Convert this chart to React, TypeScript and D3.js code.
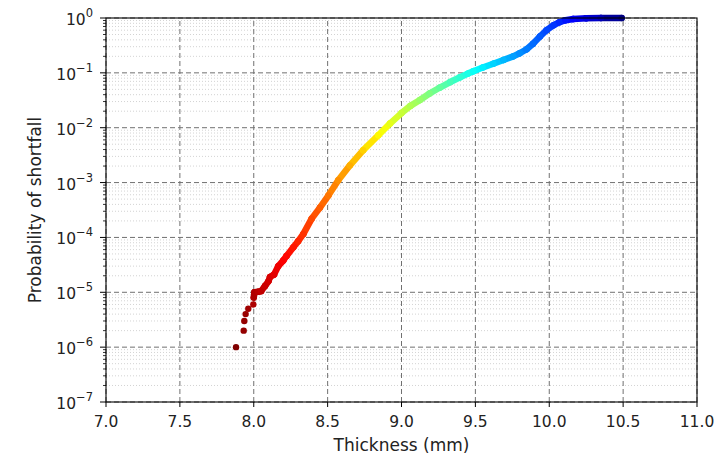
import * as d3 from "d3";
import React from "react";

// thickness (mm) and probability of shortfall
const thickness = [
  7.88, 7.932, 7.936, 7.945, 7.963, 7.997,
  8.0, 8.005, 8.03, 8.05, 8.076, 8.1, 8.11, 8.137, 8.166, 8.2, 8.222, 8.268,
  8.3, 8.336, 8.392, 8.448, 8.505, 8.572, 8.651, 8.741, 8.843, 8.922, 9.0,
  9.06, 9.125, 9.19, 9.26, 9.33, 9.396, 9.45, 9.486, 9.55, 9.621, 9.69,
  9.756, 9.8, 9.847, 9.89, 9.937, 9.982, 10.03, 10.07, 10.11, 10.163,
  10.25, 10.35, 10.49,
];
const probability = [
  1e-6, 2e-6, 3e-6, 4e-6, 5e-6, 6e-6,
  8e-6, 1e-5, 1.02e-5, 1.05e-5, 1.3e-5, 1.6e-5, 1.9e-5, 2.1e-5, 3e-5, 3.8e-5, 4.6e-5, 6.6e-5,
  8.5e-5, 1.16e-4, 2.2e-4, 3.5e-4, 5.8e-4, 1.1e-3, 2.06e-3, 3.9e-3, 7.3e-3, 1.19e-2, 1.85e-2,
  0.025, 0.032, 0.042, 0.054, 0.068, 0.083, 0.097, 0.107, 0.125, 0.147, 0.172,
  0.2, 0.228, 0.27, 0.34, 0.46, 0.6, 0.74, 0.84, 0.91, 0.96,
  0.99, 1.0, 1.0,
];
// first points are separate scatter dots, the rest form the dense curve
const tailCount = 6;

const xTicks = [7.0, 7.5, 8.0, 8.5, 9.0, 9.5, 10.0, 10.5, 11.0];
const yExponents = [0, -1, -2, -3, -4, -5, -6, -7];

const width = 728;
const height = 457;
const marginLeft = 106;
const marginRight = 31;
const marginTop = 18;
const marginBottom = 55;

function jetR(t: number) {
  const v = 1 - t;
  const c = (a: number) => Math.round(255 * Math.max(0, Math.min(1, a)));
  const r = c(1.5 - Math.abs(4 * v - 3));
  const g = c(1.5 - Math.abs(4 * v - 2));
  const b = c(1.5 - Math.abs(4 * v - 1));
  return `rgb(${r},${g},${b})`;
}

export default function App() {
  const x = d3
    .scaleLinear()
    .domain([7, 11])
    .range([marginLeft, width - marginRight]);
  const y = d3
    .scaleLog()
    .domain([1e-7, 1])
    .range([height - marginBottom, marginTop]);

  const color = d3
    .scaleLinear()
    .domain(d3.extent(thickness) as [number, number])
    .range([0, 1]);

  const minor: number[] = [];
  for (let e = -7; e < 0; e++) {
    for (let k = 2; k <= 9; k++) minor.push(k * Math.pow(10, e));
  }

  const pts = thickness.map((t, i) => ({ t, p: probability[i] }));
  const curve = pts.slice(tailCount);
  const font = "DejaVu Sans, sans-serif";
  const x0 = marginLeft;
  const x1 = width - marginRight;
  const y0 = height - marginBottom;
  const y1 = marginTop;

  return (
    <svg
      width={width}
      height={height}
      style={{ position: "absolute", left: 0, top: 0, background: "#fff" }}
      fontFamily={font}
    >
      {/* minor grid */}
      <g stroke="#c8c8c8" strokeWidth={0.8} strokeDasharray="1,2">
        {minor.map((m) => (
          <line key={m} x1={x0} x2={x1} y1={y(m)} y2={y(m)} />
        ))}
      </g>
      {/* major grid */}
      <g stroke="#707070" strokeWidth={1} strokeDasharray="5,3">
        {yExponents.map((e) => (
          <line key={e} x1={x0} x2={x1} y1={y(Math.pow(10, e))} y2={y(Math.pow(10, e))} />
        ))}
        {xTicks.map((t) => (
          <line key={t} x1={x(t)} x2={x(t)} y1={y0} y2={y1} />
        ))}
      </g>

      {/* data */}
      <g strokeWidth={6.5} strokeLinecap="round">
        {curve.slice(1).map((d, i) => (
          <line
            key={i}
            x1={x(curve[i].t)}
            y1={y(curve[i].p)}
            x2={x(d.t)}
            y2={y(d.p)}
            stroke={jetR(color((curve[i].t + d.t) / 2))}
          />
        ))}
      </g>
      <g>
        {pts.map((d, i) => (
          <circle key={i} cx={x(d.t)} cy={y(d.p)} r={3.2} fill={jetR(color(d.t))} />
        ))}
      </g>

      {/* spines */}
      <rect x={x0} y={y1} width={x1 - x0} height={y0 - y1} fill="none" stroke="#000" strokeWidth={1.1} />

      {/* x axis */}
      <g fontSize={15.5} textAnchor="middle" fill="#222">
        {xTicks.map((t) => (
          <g key={t}>
            <line x1={x(t)} x2={x(t)} y1={y0} y2={y0 + 5} stroke="#000" />
            <text x={x(t)} y={y0 + 25}>
              {t.toFixed(1)}
            </text>
          </g>
        ))}
      </g>
      <text x={(x0 + x1) / 2} y={451} fontSize={17} textAnchor="middle" fill="#222">
        Thickness (mm)
      </text>

      {/* y axis */}
      <g fill="#222">
        {minor.map((m) => (
          <line key={m} x1={x0 - 3} x2={x0} y1={y(m)} y2={y(m)} stroke="#000" strokeWidth={0.8} />
        ))}
        {yExponents.map((e) => (
          <g key={e}>
            <line x1={x0 - 6} x2={x0} y1={y(Math.pow(10, e))} y2={y(Math.pow(10, e))} stroke="#000" />
            <text x={x0 - 13} y={y(Math.pow(10, e)) + 7} textAnchor="end" fontSize={15.5}>
              10
              <tspan dy={-8} fontSize={11.5}>
                {e === 0 ? "0" : "\u2212" + Math.abs(e)}
              </tspan>
            </text>
          </g>
        ))}
      </g>
      <text
        transform={`translate(41,${(y0 + y1) / 2}) rotate(-90)`}
        fontSize={17}
        textAnchor="middle"
        fill="#222"
      >
        Probability of shortfall
      </text>
    </svg>
  );
}
